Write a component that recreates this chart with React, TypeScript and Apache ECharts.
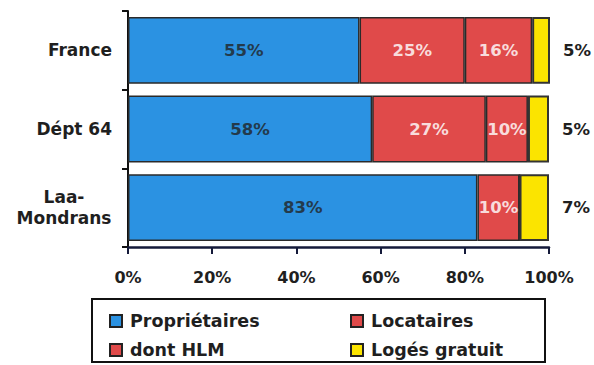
import React, { useEffect, useRef } from "react";
import * as echarts from "echarts";

// Housing status by area (percent of households)
const categories = ["France", "Dépt 64", "Laa-Mondrans"];
const proprietaires = [55, 58, 83];
const locataires = [25, 27, 10];
const dontHlm = [16, 10, 0];
const logesGratuit = [5, 5, 7];
const xTickStep = 20;

const BLUE = "#2b92e2";
const RED = "#e04a4a";
const YELLOW = "#fbe400";
const INK = "#1f1f1f";
const BOLD_FONT = "DejaVu Sans";

export default function App() {
  const ref = useRef<HTMLDivElement>(null);

  useEffect(() => {
    document.body.style.margin = "0";
    const chart = echarts.init(ref.current!, null, { renderer: "svg" });

    const pct = (p: any) => (p.value ? `${p.value}%` : "");
    const insideLabel = (color: string) => ({
      show: true,
      position: "inside",
      formatter: pct,
      color,
      fontFamily: BOLD_FONT,
      fontWeight: "bold",
      fontSize: 16.5,
    });
    const barStyle = (color: string) => ({
      color,
      borderColor: "#2a2a2a",
      borderWidth: 1.5,
    });
    const legendText = {
      color: INK,
      fontFamily: BOLD_FONT,
      fontWeight: "bold",
      fontSize: 17.5,
      lineHeight: 20,
      padding: [0, 0, 0, 3],
    };

    chart.setOption({
      animation: false,
      backgroundColor: "#ffffff",
      grid: { left: 128, right: 45, top: 11, bottom: 118 },
      xAxis: {
        type: "value",
        min: 0,
        max: 100,
        interval: xTickStep,
        axisLine: { show: true, lineStyle: { color: "#141a3a", width: 2.5 } },
        axisTick: { show: true, length: 7, lineStyle: { color: "#141a3a", width: 2 } },
        splitLine: { show: false },
        axisLabel: {
          formatter: "{value}%",
          margin: 22,
          color: INK,
          fontFamily: BOLD_FONT,
          fontWeight: "bold",
          fontSize: 16,
        },
      },
      yAxis: {
        type: "category",
        data: categories,
        inverse: true,
        axisLine: { show: true, lineStyle: { color: "#111", width: 2 } },
        axisTick: { show: true, length: 6, lineStyle: { color: "#111", width: 2 } },
        axisLabel: {
          margin: 16,
          align: "right",
          color: INK,
          fontFamily: BOLD_FONT,
          fontWeight: "bold",
          fontSize: 17,
          formatter: (v: string) => {
            const i = v.indexOf("-");
            return i > 0 ? `{c|${v.slice(0, i + 1)}}\n{c|${v.slice(i + 1)}}` : v;
          },
          rich: {
            c: {
              width: 96,
              align: "center",
              lineHeight: 21,
              color: INK,
              fontFamily: BOLD_FONT,
              fontWeight: "bold",
              fontSize: 17,
            },
          },
        },
      },
      legend: [
        {
          data: ["Propriétaires", "dont HLM"],
          orient: "vertical",
          left: 104,
          top: 306,
          itemGap: 9,
          itemWidth: 12,
          itemHeight: 12,
          icon: "rect",
          itemStyle: { borderColor: "#222", borderWidth: 2 },
          textStyle: legendText,
        },
        {
          data: ["Locataires", "Logés gratuit"],
          orient: "vertical",
          left: 345,
          top: 306,
          itemGap: 9,
          itemWidth: 12,
          itemHeight: 12,
          icon: "rect",
          itemStyle: { borderColor: "#222", borderWidth: 2 },
          textStyle: legendText,
        },
      ],
      graphic: [
        {
          type: "rect",
          shape: { x: 92, y: 299, width: 453, height: 63 },
          style: { fill: "none", stroke: "#111", lineWidth: 2 },
          z: -1,
        },
      ],
      series: [
        {
          name: "Propriétaires",
          type: "bar",
          stack: "total",
          barCategoryGap: "15%",
          data: proprietaires,
          itemStyle: barStyle(BLUE),
          label: insideLabel("#233a4c"),
        },
        {
          name: "Locataires",
          type: "bar",
          stack: "total",
          data: locataires,
          itemStyle: barStyle(RED),
          label: insideLabel("#f8dcdc"),
        },
        {
          name: "dont HLM",
          type: "bar",
          stack: "total",
          data: dontHlm,
          itemStyle: barStyle(RED),
          label: insideLabel("#f8dcdc"),
        },
        {
          name: "Logés gratuit",
          type: "bar",
          stack: "total",
          data: logesGratuit,
          itemStyle: { color: YELLOW, borderColor: "#333", borderWidth: 2 },
          label: {
            show: true,
            position: "right",
            distance: 13,
            formatter: pct,
            color: INK,
            fontFamily: BOLD_FONT,
            fontWeight: "bold",
            fontSize: 16.5,
          },
        },
      ],
    });

    return () => chart.dispose();
  }, []);

  return <div ref={ref} style={{ width: 594, height: 365 }} />;
}
